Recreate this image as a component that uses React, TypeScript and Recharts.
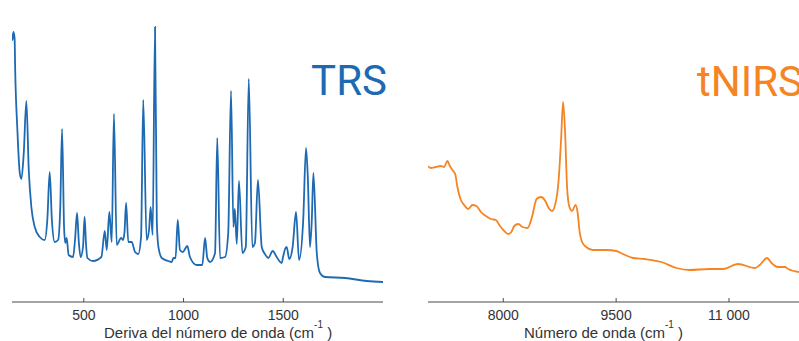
import { LineChart, Line, XAxis, YAxis } from "recharts"

// TRS spectrum (Raman shift, cm-1) and intensity
const trsShift = [
  140, 143, 147, 153, 156, 167, 179, 187, 199, 212, 224, 237, 254, 279, 304, 317, 329, 340, 354, 371,
  382, 391, 401, 407, 414, 424, 446, 456, 466, 475, 484, 496, 504, 511, 518, 546, 588, 605, 615, 628,
  640, 651, 665, 687, 697, 704, 712, 723, 740, 757, 773, 787, 798, 815, 827, 835, 845, 857, 866, 874,
  891, 924, 941, 949, 960, 971, 982, 996, 1019, 1032, 1066, 1094, 1108, 1119, 1133, 1158, 1169, 1183, 1208, 1224,
  1238, 1250, 1257, 1267, 1278, 1295, 1312, 1327, 1345, 1358, 1373, 1392, 1408, 1425, 1447, 1467, 1492, 1500, 1509, 1517,
  1530, 1547, 1564, 1579, 1600, 1614, 1623, 1634, 1643, 1651, 1668, 1684, 1709, 1810, 1918, 2000,
]
const trsIntensity = [
  268, 262, 270, 264, 232, 172, 129, 123, 149, 201, 132, 95, 75, 65, 62, 82, 130, 82, 60, 62,
  95, 173, 75, 59, 64, 47, 45, 62, 89, 60, 45, 55, 85, 58, 44, 41, 45, 71, 52, 90,
  60, 188, 57, 64, 62, 70, 99, 60, 60, 50, 48, 65, 202, 62, 72, 95, 67, 275, 80, 55,
  44, 41, 40, 44, 44, 82, 52, 50, 56, 45, 37, 37, 64, 44, 40, 49, 164, 44, 45, 69,
  211, 75, 93, 58, 121, 49, 55, 223, 55, 59, 122, 55, 48, 44, 51, 45, 39, 46, 53, 55,
  43, 55, 90, 42, 82, 154, 125, 55, 82, 129, 49, 29, 25, 24, 21, 20,
]

// tNIRS spectrum (wavenumber, cm-1)
const nirWavenumber = [
  7000, 7037, 7104, 7170, 7214, 7258, 7290, 7325, 7361, 7391, 7437, 7481, 7534, 7591, 7644, 7703, 7770, 7836, 7903, 7947,
  8013, 8067, 8107, 8146, 8200, 8257, 8324, 8382, 8443, 8502, 8559, 8603, 8648, 8692, 8736, 8768, 8795, 8822, 8848, 8879,
  8915, 8959, 8989, 9012, 9048, 9101, 9189, 9368, 9501, 9589, 9722, 9878, 10100, 10300, 10477, 10743, 10920, 11120, 11342, 11409,
  11506, 11564, 11652, 11742, 11786, 11929,
]
const nirIntensity = [
  136, 134, 135, 136, 135, 141, 136, 132, 128, 115, 102, 97, 93, 97, 96, 90, 86, 83, 82, 77,
  71, 68, 70, 76, 78, 75, 74, 85, 103, 105, 101, 94, 91, 98, 122, 162, 200, 169, 115, 95,
  91, 97, 89, 72, 60, 55, 52, 52, 51, 48, 44, 43, 40, 34, 32, 33, 33, 38, 34, 37,
  44, 39, 35, 35, 33, 30,
]

const trsTicks = [500, 1000, 1500]
const nirTicks = [8000, 9500, 11000]
const nirTickLabels = ["8000", "9500", "11 000"]

const BLUE = "#1e6ab2"
const ORANGE = "#f58423"
const AXIS = "#4a4a4a"
const TEXT = "#333"
const SANS = "'Liberation Sans', Arial, Helvetica, sans-serif"

const trsData = trsShift.map((x, i) => ({ x, y: trsIntensity[i] }))
const nirData = nirWavenumber.map((x, i) => ({ x, y: nirIntensity[i] }))

function makeTick(format: (v: number) => string) {
  return (props: any) => {
    const { x, y, payload } = props
    return (
      <g>
        <line x1={x} x2={x} y1={y - 4} y2={y} stroke={AXIS} strokeWidth={1} />
        <text x={x} y={y + 18} textAnchor="middle" fontSize={14} fontFamily={SANS} fill={TEXT}>
          {format(payload.value)}
        </text>
      </g>
    )
  }
}

const trsTick = makeTick((v) => String(v))
const nirTick = makeTick((v) => nirTickLabels[nirTicks.indexOf(v)] ?? String(v))

export default function App() {
  return (
    <div style={{ position: "absolute", left: 0, top: 0, width: 799, height: 341, background: "#fff" }}>
      <div style={{ position: "absolute", left: 0, top: 0 }}>
        <LineChart width={400} height={341} data={trsData} margin={{ top: 8, right: 17, bottom: 0, left: 12 }}>
          <XAxis
            type="number"
            dataKey="x"
            domain={[140, 2000]}
            ticks={trsTicks}
            allowDataOverflow
            height={39}
            tickSize={0}
            tickMargin={0}
            tickLine={false}
            axisLine={{ stroke: AXIS, strokeWidth: 1.2 }}
            tick={trsTick}
          />
          <YAxis
            type="number"
            domain={[0, 294]}
            allowDataOverflow
            width={0}
            tick={false}
            tickLine={false}
            axisLine={{ stroke: AXIS, strokeWidth: 1.2 }}
          />
          <Line
            type="monotone"
            dataKey="y"
            stroke={BLUE}
            strokeWidth={1.8}
            dot={false}
            isAnimationActive={false}
          />
        </LineChart>
      </div>
      <div style={{ position: "absolute", left: 400, top: 0 }}>
        <LineChart width={399} height={341} data={nirData} margin={{ top: 88, right: 0, bottom: 0, left: 28 }}>
          <XAxis
            type="number"
            dataKey="x"
            domain={[7000, 11930]}
            ticks={nirTicks}
            allowDataOverflow
            height={39}
            tickSize={0}
            tickMargin={0}
            tickLine={false}
            axisLine={{ stroke: AXIS, strokeWidth: 1.2 }}
            tick={nirTick}
          />
          <YAxis
            type="number"
            domain={[0, 214]}
            allowDataOverflow
            width={0}
            tick={false}
            tickLine={false}
            axisLine={{ stroke: AXIS, strokeWidth: 1.2 }}
          />
          <Line
            type="monotone"
            dataKey="y"
            stroke={ORANGE}
            strokeWidth={1.8}
            dot={false}
            isAnimationActive={false}
          />
        </LineChart>
      </div>
      <svg width={799} height={341} style={{ position: "absolute", left: 0, top: 0, pointerEvents: "none" }}>
        <text x={387} y={95} textAnchor="end" fontSize={42} fontFamily="Roboto, sans-serif" fill={BLUE}>
          TRS
        </text>
        <text x={697} y={96} fontSize={42} fontFamily="Roboto, sans-serif" fill={ORANGE}>
          tNIRS
        </text>
        <text x={104} y={337.5} fontSize={15} fontFamily={SANS} fill={TEXT}>
          Deriva del número de onda (cm
          <tspan dy={-10} fontSize={10}>-1</tspan>
          <tspan dy={10}> )</tspan>
        </text>
        <text x={524} y={337.5} fontSize={15} fontFamily={SANS} fill={TEXT}>
          Número de onda (cm
          <tspan dy={-10} fontSize={10}>-1</tspan>
          <tspan dy={10}> )</tspan>
        </text>
      </svg>
    </div>
  )
}
